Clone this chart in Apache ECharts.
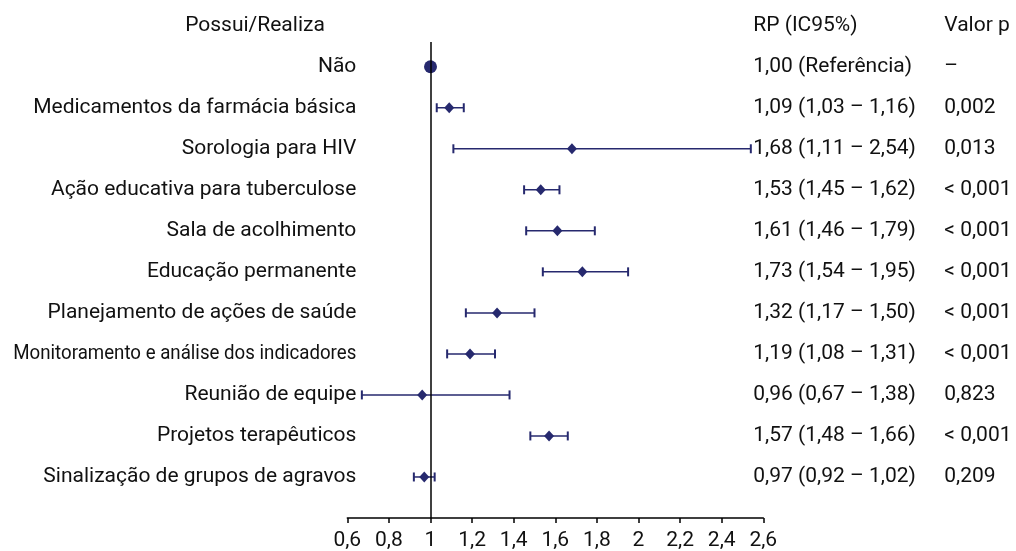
<!DOCTYPE html>
<html>
<head>
<meta charset="utf-8">
<script src="https://cdn.jsdelivr.net/npm/echarts@6/dist/echarts.min.js"></script>
<style>
html,body{margin:0;padding:0;background:#fff;}
#chart{width:1016px;height:551px;}
</style>
</head>
<body>
<div id="chart"></div>
<script>
const headerLabel = 'Possui/Realiza';
const headerRP = 'RP (IC95%)';
const headerP = 'Valor p';
const categories = ['Não','Medicamentos da farmácia básica','Sorologia para HIV','Ação educativa para tuberculose','Sala de acolhimento','Educação permanente','Planejamento de ações de saúde','Monitoramento e análise dos indicadores','Reunião de equipe','Projetos terapêuticos','Sinalização de grupos de agravos'];
const rp =    [1.00, 1.09, 1.68, 1.53, 1.61, 1.73, 1.32, 1.19, 0.96, 1.57, 0.97];
const lower = [null, 1.03, 1.11, 1.45, 1.46, 1.54, 1.17, 1.08, 0.67, 1.48, 0.92];
const upper = [null, 1.16, 2.54, 1.62, 1.79, 1.95, 1.50, 1.31, 1.38, 1.66, 1.02];
const rpText = ['1,00 (Referência)','1,09 (1,03 – 1,16)','1,68 (1,11 – 2,54)','1,53 (1,45 – 1,62)','1,61 (1,46 – 1,79)','1,73 (1,54 – 1,95)','1,32 (1,17 – 1,50)','1,19 (1,08 – 1,31)','0,96 (0,67 – 1,38)','1,57 (1,48 – 1,66)','0,97 (0,92 – 1,02)'];
const pText = ['–','0,002','0,013','< 0,001','< 0,001','< 0,001','< 0,001','< 0,001','0,823','< 0,001','0,209'];
const xTicks = [0.6, 2.6, 0.2]; // min, max, interval

const NAVY = '#26296e';
const FONT = 'Roboto, "Noto Sans", sans-serif';
const FS = 21;
const condensed = 'Monitoramento e análise dos indicadores';

function measure(t) {
  const c = document.createElement('canvas').getContext('2d');
  c.font = FS + 'px ' + FONT;
  return c.measureText(t).width;
}

const chart = echarts.init(document.getElementById('chart'));

const textRows = [{name: headerLabel, rp: headerRP, p: headerP, idx: -1}]
  .concat(categories.map((c, i) => ({name: c, rp: rpText[i], p: pText[i], idx: i})));

const option = {
  animation: false,
  grid: {left: 347.3, right: 252.7, top: 25.7, bottom: 32.3},
  xAxis: {
    type: 'value', min: xTicks[0], max: xTicks[1], interval: xTicks[2], position: 'bottom',
    axisLine: {show: true, onZero: false, lineStyle: {color: '#000', width: 1.5}},
    axisTick: {show: true, length: 5, lineStyle: {color: '#000', width: 1.5}},
    splitLine: {show: false},
    axisLabel: {color: '#111', fontFamily: FONT, fontSize: FS, margin: 12,
      formatter: v => String(Math.round(v * 10) / 10).replace('.', ',')}
  },
  yAxis: {type: 'value', min: -1, max: 11, inverse: true, show: false},
  series: [
    {
      type: 'custom', clip: false, silent: true,
      data: textRows.map(r => [0.6, r.idx]),
      renderItem: function (params, api) {
        const r = textRows[params.dataIndex];
        const pt = api.coord([0.6, r.idx]);
        const y = pt[1];
        const children = [];
        const base = {fill: '#111', font: FS + 'px ' + FONT, verticalAlign: 'middle'};
        if (r.idx === -1) {
          children.push({type: 'text', x: 255, y: y, style: Object.assign({text: r.name, align: 'center'}, base)});
        } else {
          const el = {type: 'text', x: pt[0] + 9, y: y, style: Object.assign({text: r.name, align: 'right'}, base)};
          if (r.name === condensed) {
            el.scaleX = 343 / measure(r.name);
          }
          children.push(el);
        }
        const right = api.coord([2.6, r.idx])[0];
        children.push({type: 'text', x: right - 10, y: y, style: Object.assign({text: r.rp, align: 'left'}, base)});
        children.push({type: 'text', x: right + 181, y: y, style: Object.assign({text: r.p, align: 'left'}, base)});
        return {type: 'group', children: children};
      },
      z: 5
    },
    {
      type: 'custom', clip: false, silent: true,
      data: categories.map((c, i) => [lower[i], upper[i], i]).filter(d => d[0] !== null),
      renderItem: function (params, api) {
        const a = api.coord([api.value(0), api.value(2)]);
        const b = api.coord([api.value(1), api.value(2)]);
        const h = 4.5;
        const st = {stroke: NAVY, lineWidth: 1.5};
        const cs = {stroke: NAVY, lineWidth: 2};
        return {type: 'group', children: [
          {type: 'line', shape: {x1: a[0], y1: a[1], x2: b[0], y2: b[1]}, style: st},
          {type: 'line', shape: {x1: a[0], y1: a[1] - h, x2: a[0], y2: a[1] + h}, style: cs},
          {type: 'line', shape: {x1: b[0], y1: b[1] - h, x2: b[0], y2: b[1] + h}, style: cs}
        ]};
      },
      z: 3
    },
    {
      type: 'scatter', silent: true,
      data: rp.map((v, i) => ({value: [v, i], symbol: i === 0 ? 'circle' : 'diamond', symbolSize: i === 0 ? 13 : [10, 11]})),
      itemStyle: {color: NAVY, opacity: 1},
      z: 4,
      markLine: {
        silent: true, symbol: 'none', animation: false,
        lineStyle: {color: '#000', width: 1.5, type: 'solid'},
        label: {show: false},
        data: [[{coord: [1, -0.6]}, {coord: [1, 11]}]]
      }
    }
  ]
};
chart.setOption(option);
</script>
</body>
</html>
